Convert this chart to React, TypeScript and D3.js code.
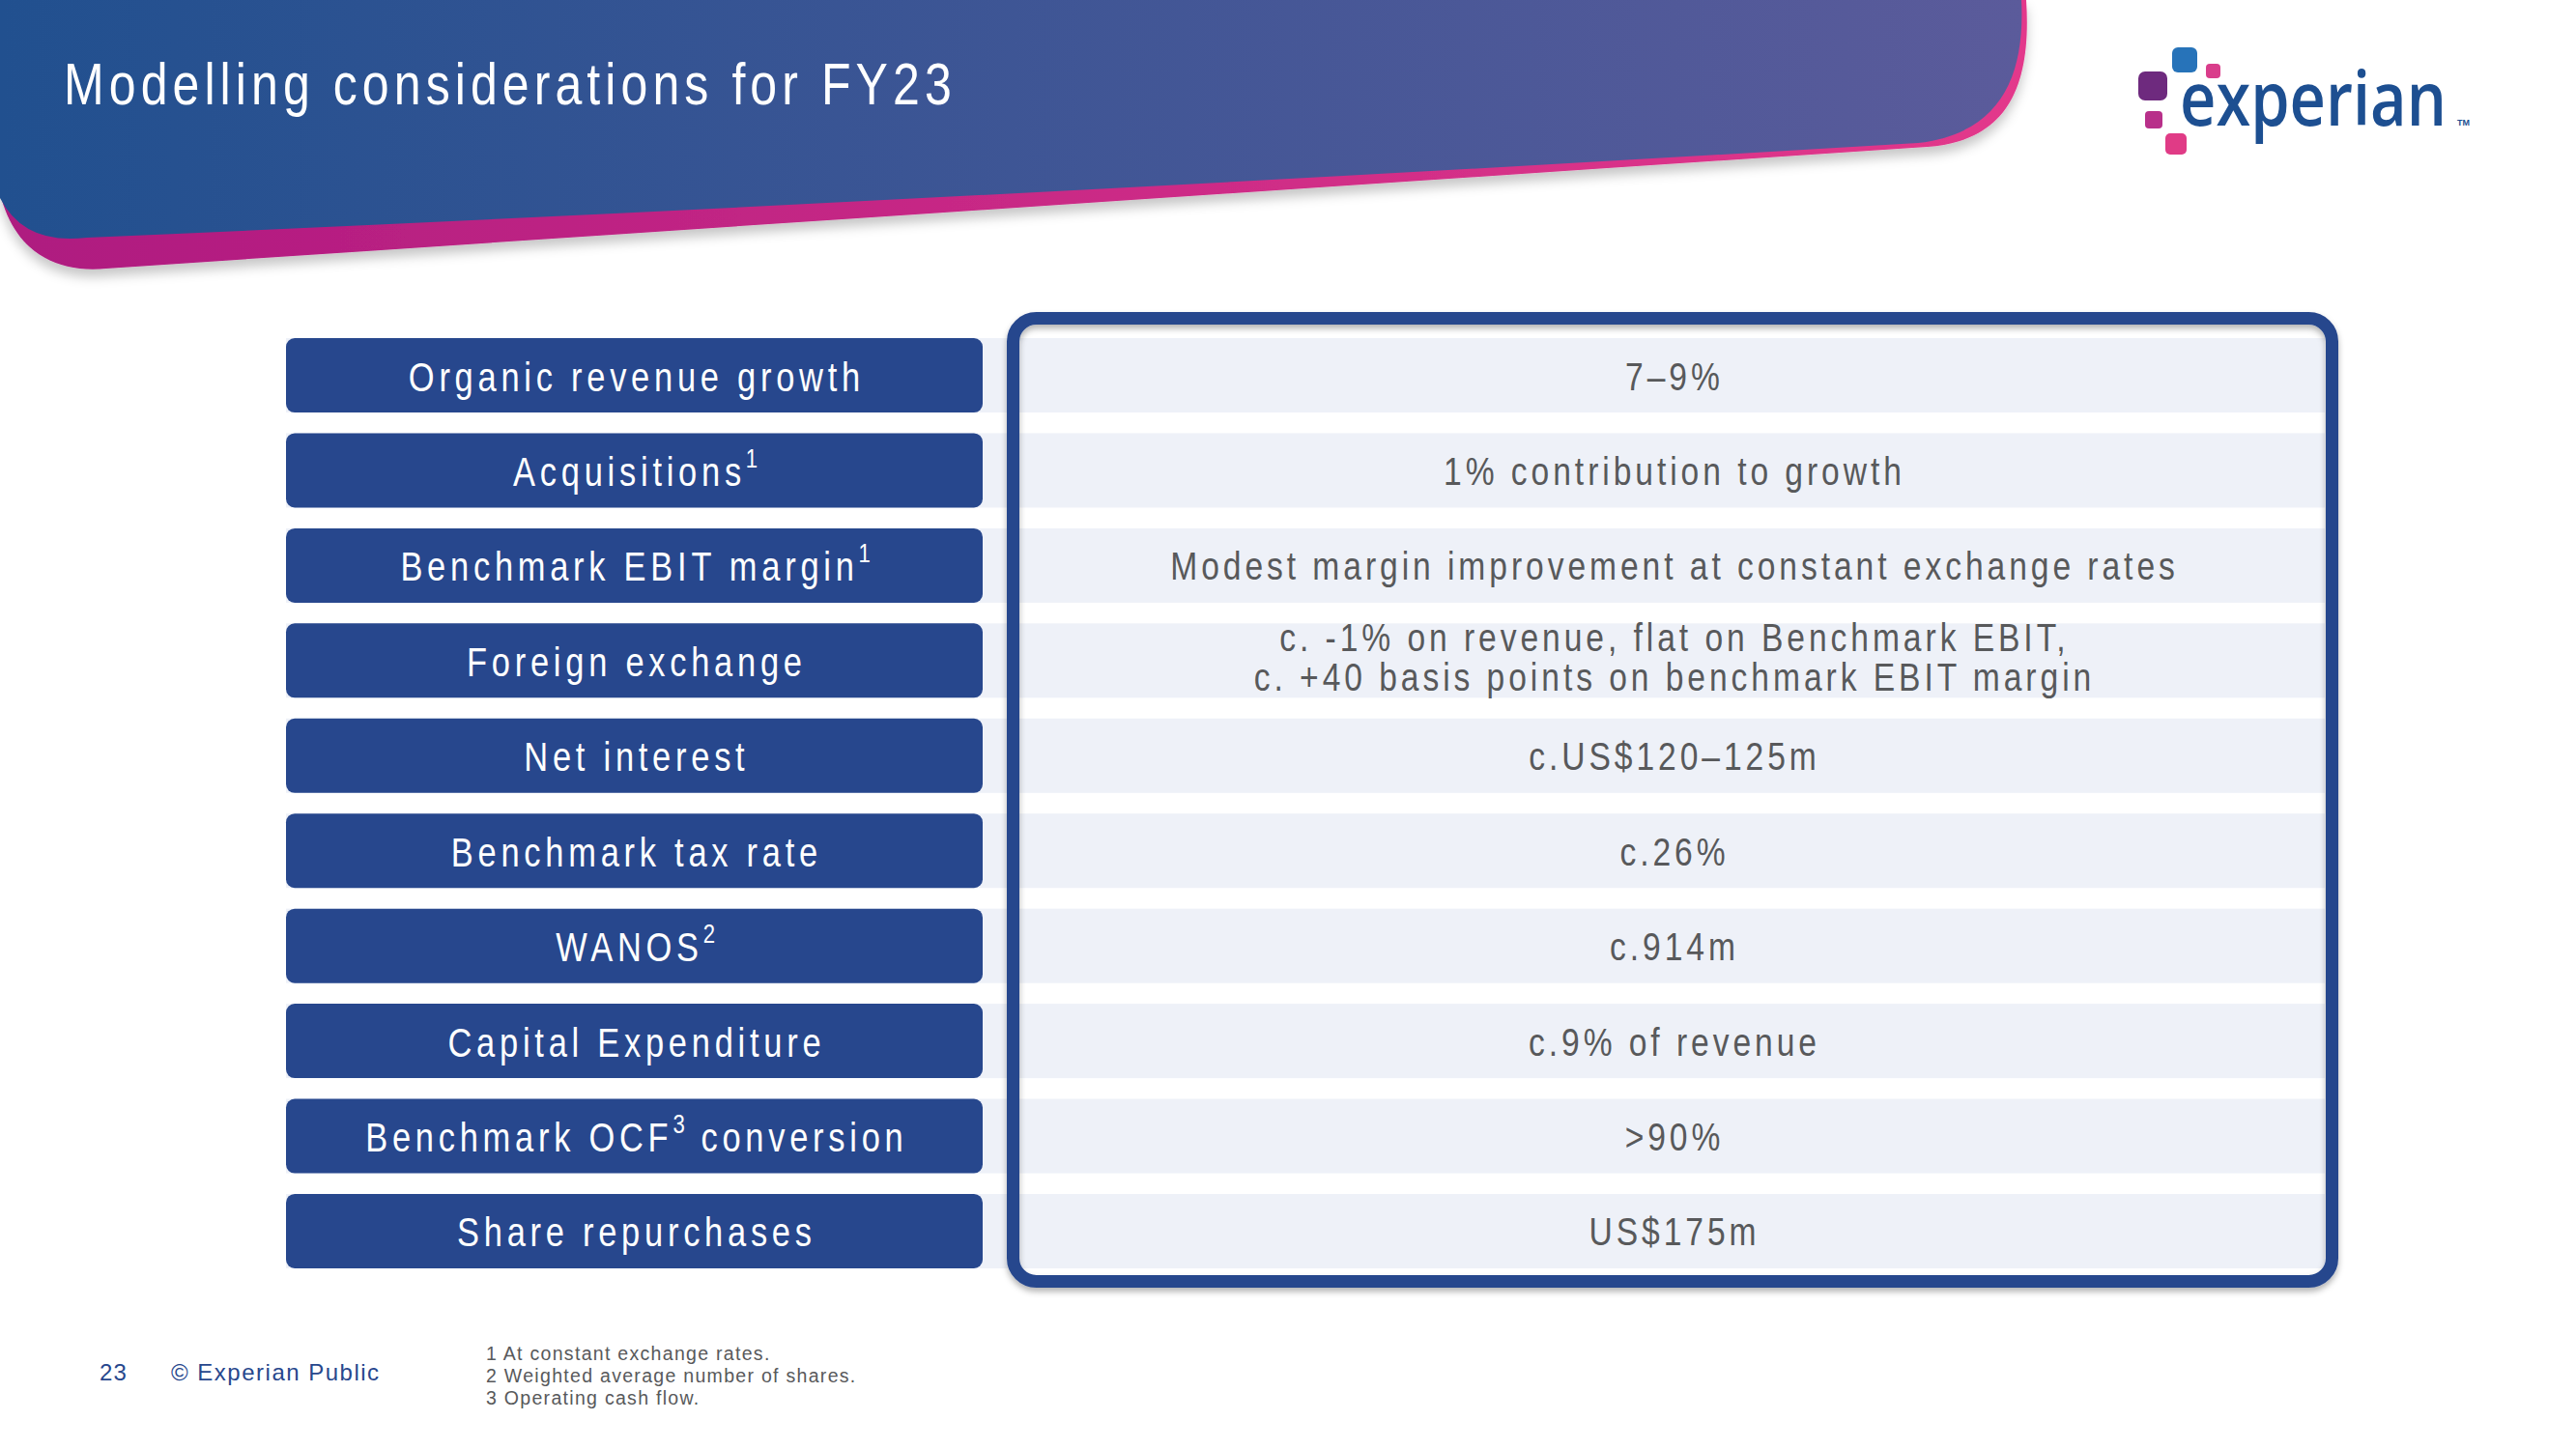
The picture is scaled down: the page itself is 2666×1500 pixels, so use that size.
import React from "react";
import * as d3 from "d3";

const W = 2666;
const H = 1500;

const title = "Modelling considerations for FY23";
const labels = [
  "Organic revenue growth",
  "Acquisitions^1",
  "Benchmark EBIT margin^1",
  "Foreign exchange",
  "Net interest",
  "Benchmark tax rate",
  "WANOS^2",
  "Capital Expenditure",
  "Benchmark OCF^3 conversion",
  "Share repurchases",
];
const values = [
  ["7–9%"],
  ["1% contribution to growth"],
  ["Modest margin improvement at constant exchange rates"],
  ["c. -1% on revenue, flat on Benchmark EBIT,", "c. +40 basis points on benchmark EBIT margin"],
  ["c.US$120–125m"],
  ["c.26%"],
  ["c.914m"],
  ["c.9% of revenue"],
  [">90%"],
  ["US$175m"],
];
const footnotes = [
  "1 At constant exchange rates.",
  "2 Weighted average number of shares.",
  "3 Operating cash flow.",
];
const pageNumber = "23";
const classification = "© Experian Public";
const logoWord = "experian";

const SANS = "'Liberation Sans', Arial, sans-serif";
const BLUE = "#27478D";
const ROW_BG = "#EEF1F8";
const GREY = "#58595B";
const SX = 0.82; // condensed (Arial Narrow-like) horizontal scale

function splitSup(s: string) {
  return s.split(/\^(\d)/);
}

type NProps = {
  x: number;
  y: number;
  fs: number;
  ls: number;
  fill: string;
  anchor?: "start" | "middle" | "end";
  children: React.ReactNode;
};

function NText({ x, y, fs, ls, fill, anchor = "start", children }: NProps) {
  const dx = anchor === "middle" ? ls / 2 : 0;
  return (
    <g transform={`translate(${x},${y}) scale(${SX},1)`}>
      <text
        x={dx}
        y={0}
        textAnchor={anchor}
        fontFamily={SANS}
        fontSize={fs}
        letterSpacing={ls}
        fill={fill}
        style={{ whiteSpace: "pre" }}
      >
        {children}
      </text>
    </g>
  );
}

export default function App() {
  const rows = d3.range(labels.length);
  const y = d3
    .scaleBand<number>()
    .domain(rows)
    .range([350, 1313])
    .paddingInner(0.2175)
    .paddingOuter(0);
  const col = d3.scaleOrdinal<string, number>().domain(["left", "split", "right"]).range([296, 1017, 2406]);
  const xL = col("left");
  const xS = col("split");
  const xR = col("right");
  const panel = { x0: 1042, y0: 323, x1: 2420, y1: 1333, sw: 13 };
  const leftCx = (xL + xS) / 2;
  const rightCx = (panel.x0 + panel.x1) / 2;
  const bw = y.bandwidth();

  const blueShape =
    "M0,0 L2092,0 C2096,80 2070,138 1985,148 Q1030,205 90,246 Q25,254 0,205 Z";
  const pinkShape =
    "M0,0 L2097,0 C2103,92 2076,146 1995,152 Q1050,215 110,278 C60,283 15,262 0,200 Z";

  return (
    <svg
      width={W}
      height={H}
      viewBox={`0 0 ${W} ${H}`}
      style={{ position: "absolute", left: 0, top: 0, display: "block", background: "#fff" }}
    >
      <defs>
        <linearGradient id="blueG" x1="0" x2="1" y1="0" y2="0">
          <stop offset="0" stopColor="#21508F" />
          <stop offset="1" stopColor="#5B5B9B" />
        </linearGradient>
        <linearGradient id="pinkG" x1="0" x2="1" y1="0" y2="0">
          <stop offset="0" stopColor="#AE1A80" />
          <stop offset="1" stopColor="#E3388B" />
        </linearGradient>
        <filter id="hdrShadow" x="-5%" y="-20%" width="110%" height="160%">
          <feDropShadow dx="0" dy="8" stdDeviation="6" floodColor="#000" floodOpacity="0.22" />
        </filter>
        <filter id="panelShadow" x="-5%" y="-5%" width="110%" height="112%">
          <feDropShadow dx="0" dy="4" stdDeviation="3" floodColor="#000" floodOpacity="0.3" />
        </filter>
      </defs>

      {/* header */}
      <path d={pinkShape} fill="url(#pinkG)" filter="url(#hdrShadow)" />
      <path d={blueShape} fill="url(#blueG)" />
      <NText x={66} y={108} fs={61} ls={6.2} fill="#fff">
        {title}
      </NText>

      {/* logo */}
      <g>
        <rect x={2213} y={74} width={30} height={30} rx={7} fill="#6E2A7E" />
        <rect x={2248} y={49} width={26} height={26} rx={6} fill="#2773B9" />
        <rect x={2283} y={66} width={15} height={15} rx={4} fill="#D93D8B" />
        <rect x={2220} y={115} width={18} height={18} rx={4} fill="#B8308A" />
        <rect x={2241} y={138} width={22} height={22} rx={5} fill="#E03B86" />
        <text
          x={2256}
          y={130}
          fill="#1D4F91"
          fontFamily="'Open Sans', sans-serif"
          fontWeight={600}
          fontSize={78}
          textLength={276}
          lengthAdjust="spacingAndGlyphs"
        >
          {logoWord}
        </text>
        <text x={2543} y={130} fill="#1D4F91" fontFamily={SANS} fontSize={9} fontWeight={700}>
          TM
        </text>
      </g>

      {/* row backgrounds */}
      {rows.map((i) => (
        <rect key={"bg" + i} x={xL} y={y(i)} width={xR - xL} height={bw} fill={ROW_BG} />
      ))}

      {/* right panel border */}
      <rect
        x={panel.x0 + panel.sw / 2}
        y={panel.y0 + panel.sw / 2}
        width={panel.x1 - panel.x0 - panel.sw}
        height={panel.y1 - panel.y0 - panel.sw}
        rx={24}
        fill="none"
        stroke={BLUE}
        strokeWidth={panel.sw}
        filter="url(#panelShadow)"
      />

      {/* left label boxes */}
      {rows.map((i) => {
        const parts = splitSup(labels[i]);
        const cy = (y(i) as number) + bw / 2;
        return (
          <g key={"l" + i}>
            <rect x={xL} y={y(i)} width={xS - xL} height={bw} rx={9} fill={BLUE} />
            <NText x={leftCx} y={cy + 16} fs={42} ls={5.8} fill="#fff" anchor="middle">
              {parts.map((p, k) =>
                k % 2 === 1 ? (
                  <tspan key={k} dy={-19} fontSize={27} letterSpacing={3}>
                    {p}
                  </tspan>
                ) : (
                  <tspan key={k} dy={k > 0 ? 19 : 0}>
                    {p}
                  </tspan>
                )
              )}
            </NText>
          </g>
        );
      })}

      {/* right values */}
      {rows.map((i) => {
        const lines = values[i];
        const cy = (y(i) as number) + bw / 2;
        const n = lines.length;
        return (
          <g key={"v" + i}>
            {lines.map((ln, k) => (
              <NText
                key={k}
                x={rightCx}
                y={cy + 15 - (n - 1) * 4 + (k - (n - 1) / 2) * 41}
                fs={41}
                ls={4.8}
                fill={GREY}
                anchor="middle"
              >
                {ln}
              </NText>
            ))}
          </g>
        );
      })}

      {/* footer */}
      <text x={103} y={1429} fill={BLUE} fontFamily={SANS} fontSize={24} letterSpacing={1.2}>
        {pageNumber}
      </text>
      <text x={177} y={1429} fill={BLUE} fontFamily={SANS} fontSize={24} letterSpacing={1.5}>
        {classification}
      </text>
      {footnotes.map((f, k) => (
        <text
          key={"fn" + k}
          x={503}
          y={1408 + k * 23}
          fill={GREY}
          fontFamily={SANS}
          fontSize={19.5}
          letterSpacing={1.3}
        >
          {f}
        </text>
      ))}
    </svg>
  );
}
